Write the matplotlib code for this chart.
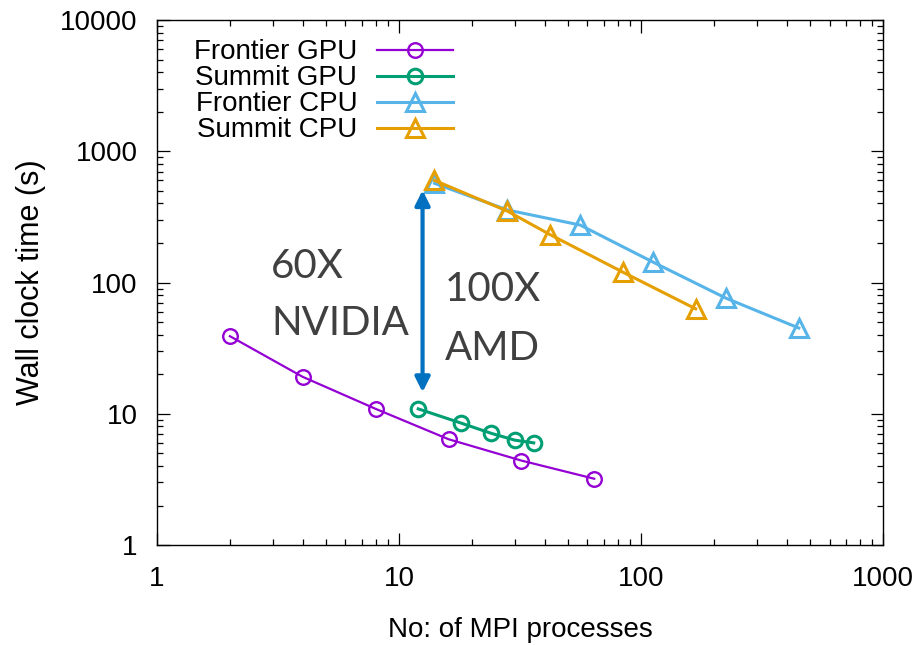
import matplotlib
matplotlib.use("Agg")
import matplotlib.pyplot as plt
from matplotlib.ticker import LogLocator, FixedLocator, NullFormatter

plt.rcParams["font.family"] = ["Liberation Sans", "DejaVu Sans"]

# ---- data ----
frontier_gpu_x = [2, 4, 8, 16, 32, 64]
frontier_gpu_y = [39, 19.1, 10.9, 6.4, 4.4, 3.2]

summit_gpu_x = [12, 18, 24, 30, 36]
summit_gpu_y = [10.9, 8.5, 7.1, 6.3, 6.0]

frontier_cpu_x = [14, 28, 56, 112, 224, 448]
frontier_cpu_y = [570, 357, 274, 143, 76, 45]

summit_cpu_x = [14, 28, 42, 84, 168]
summit_cpu_y = [600, 350, 232, 120, 63]

x_ticks = [1, 10, 100, 1000]
y_ticks = [1, 10, 100, 1000, 10000]

# arrow between the GPU and CPU curves
arrow_x = 12.5
arrow_y = (14.6, 505)

fig = plt.figure(figsize=(9.2, 6.45), dpi=100)
ax = fig.add_axes([0.1707, 0.155, 0.7893, 0.814])

ax.plot(frontier_gpu_x, frontier_gpu_y, color="#9400D3", lw=1.6, marker="o",
        ms=10.5, mfc="none", mew=1.7, label="Frontier GPU")
ax.plot(summit_gpu_x, summit_gpu_y, color="#009E73", lw=2.2, marker="o",
        ms=10.5, mfc="none", mew=2.2, label="Summit GPU")
ax.plot(frontier_cpu_x, frontier_cpu_y, color="#56B4E9", lw=2.2, marker="^",
        ms=13, mfc="none", mew=2.2, label="Frontier CPU")
ax.plot(summit_cpu_x, summit_cpu_y, color="#E69F00", lw=2.2, marker="^",
        ms=13, mfc="none", mew=2.2, label="Summit CPU")

ax.set_xscale("log")
ax.set_yscale("log")
ax.set_xlim(1, 1000)
ax.set_ylim(1, 10000)

ax.xaxis.set_major_locator(FixedLocator(x_ticks))
ax.yaxis.set_major_locator(FixedLocator(y_ticks))
ax.set_xticklabels([str(t) for t in x_ticks])
ax.set_yticklabels([str(t) for t in y_ticks])
ax.xaxis.set_minor_locator(LogLocator(base=10, subs=range(2, 10)))
ax.yaxis.set_minor_locator(LogLocator(base=10, subs=range(2, 10)))
ax.xaxis.set_minor_formatter(NullFormatter())
ax.yaxis.set_minor_formatter(NullFormatter())

ax.tick_params(which="both", direction="in", top=True, right=True,
               labelsize=20, width=0.9)
ax.tick_params(axis="x", which="major", length=9, pad=15)
ax.tick_params(axis="y", which="major", length=9, pad=14)
ax.tick_params(which="minor", length=4.5)
for s in ax.spines.values():
    s.set_linewidth(1.0)

ax.set_xlabel("No: of MPI processes", fontsize=20, labelpad=18)
ax.set_ylabel("Wall clock time (s)", fontsize=22, labelpad=10)

leg = ax.legend(loc="upper left", bbox_to_anchor=(0.024, 1.0), frameon=False,
                markerfirst=False, fontsize=20, handlelength=2.75,
                labelspacing=0.0, handletextpad=0.7, borderaxespad=0.3)

# annotation: double-headed arrow and speed-up texts
ax.annotate("", xy=(arrow_x, arrow_y[1]), xytext=(arrow_x, arrow_y[0]),
            arrowprops=dict(arrowstyle="<|-|>", color="#0070C0", lw=3,
                            mutation_scale=22, shrinkA=0, shrinkB=0))
txt = dict(transform=ax.transAxes, fontsize=29, family=["Lato", "DejaVu Sans"],
           color="#404040", va="baseline", ha="left")
ax.text(0.157, 0.5086, "60X", **txt)
ax.text(0.157, 0.400, "NVIDIA", **txt)
ax.text(0.3967, 0.4648, "100X", **txt)
ax.text(0.3967, 0.3524, "AMD", **txt)

fig.savefig("out.png", dpi=100, facecolor="white")
